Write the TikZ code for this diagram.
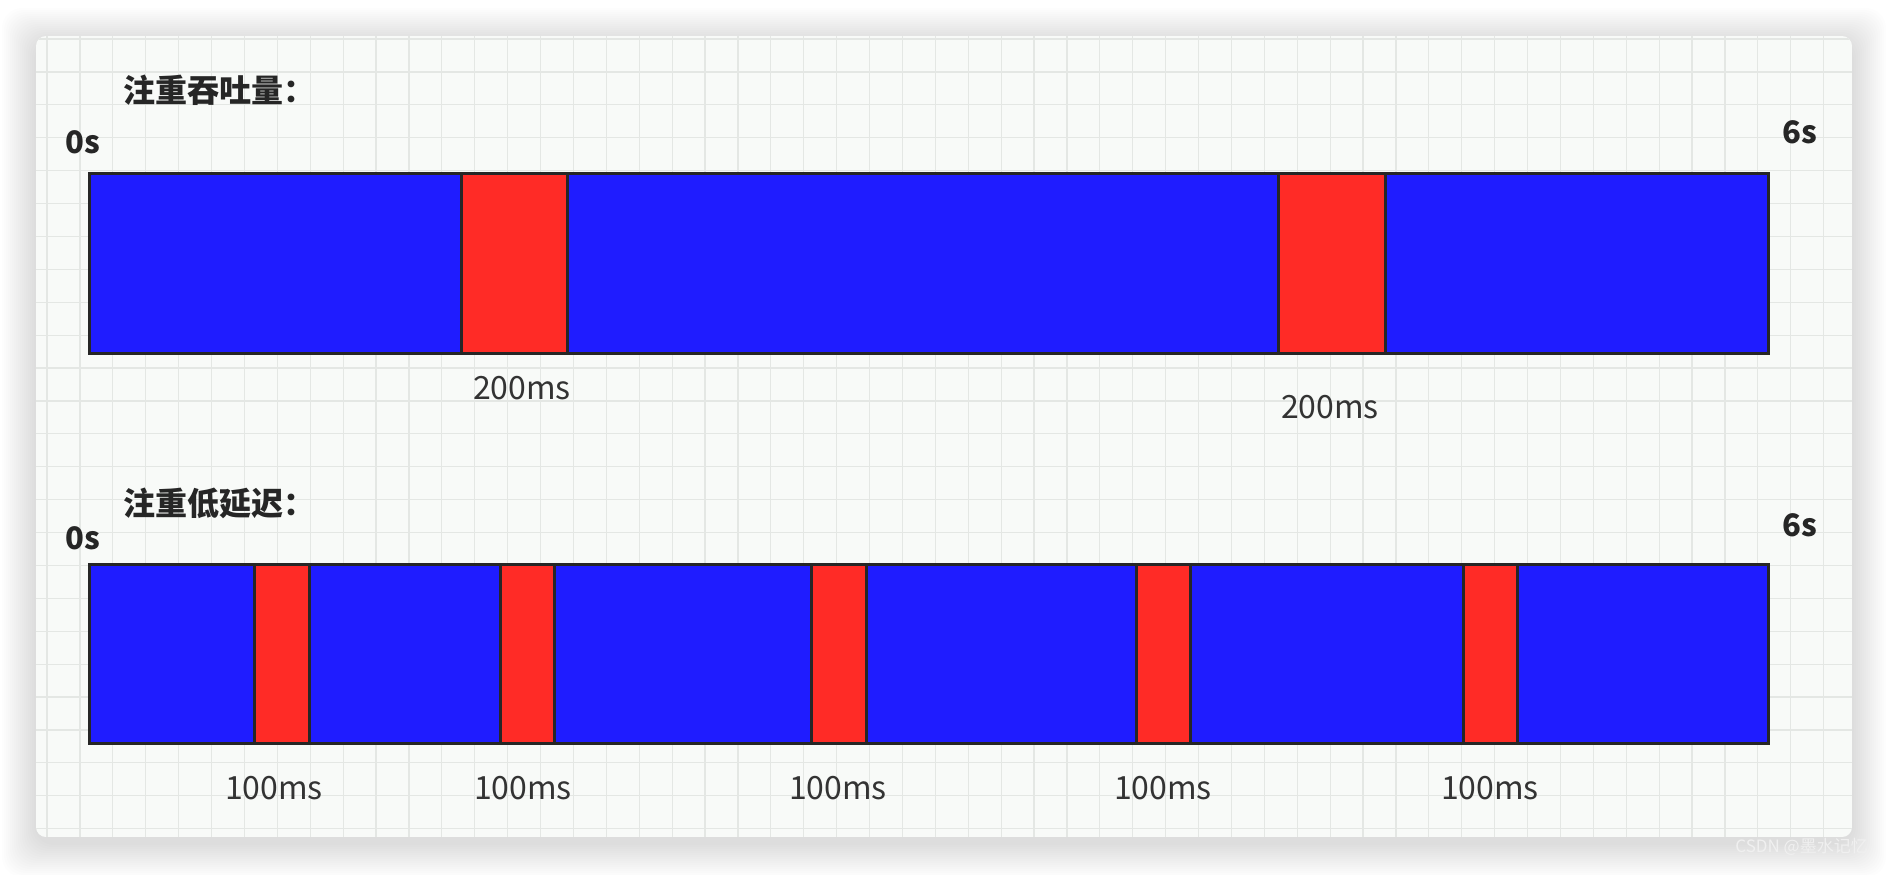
\documentclass[tikz,border=0pt]{standalone}
\usepackage{fontspec}
\setmainfont{Noto Sans CJK SC}
\usetikzlibrary{positioning}
\definecolor{runBlue}{HTML}{1F1CFF}
\definecolor{gcRed}{HTML}{FF2B26}
\definecolor{edgeGray}{HTML}{262626}
\definecolor{paper}{HTML}{F8FAF8}
\definecolor{gridGray}{HTML}{E4E7E4}
\definecolor{labelGray}{HTML}{333333}

\begin{document}
\begin{tikzpicture}[x=0.5pt, y=-0.5pt,
    runbar/.style={fill=runBlue, draw=edgeGray, line width=1.5pt},
    pause/.style={fill=gcRed, draw=edgeGray, line width=1.5pt},
    title/.style={font=\fontsize{16}{19}\selectfont\bfseries, text=black!85, anchor=west, inner sep=0pt},
    tick/.style={font=\fontsize{15.5}{18}\selectfont\bfseries, text=black!85, inner sep=0pt},
    mslabel/.style={font=\fontsize{16}{19}\selectfont, text=labelGray, inner sep=0pt}]

    \useasboundingbox (0,0) rectangle (1888,874);
    \fill[white] (0,0) rectangle (1888,874);

    % Card shadow
    \foreach \s in {2,4,...,34}
        \fill[black, opacity=0.007, rounded corners=10pt] ({36-\s},{42-\s}) rectangle ({1852+\s},{843+\s});

    % Card with grid
    \begin{scope}
        \clip[rounded corners=5pt] (36,36) rectangle (1852,837);
        \fill[paper] (36,36) rectangle (1852,837);
        \foreach \i in {0,...,55}
            \draw[gridGray, line width=0.6pt] ({47+32.9*\i},36) -- ({47+32.9*\i},837);
        \foreach \j in {0,...,24}
            \draw[gridGray, line width=0.6pt] (36,{39+32.9*\j}) -- (1852,{39+32.9*\j});
    \end{scope}

    % Throughput
    \node[title] (t1) at (123,90) {注重吞吐量：};
    \node[tick] (s0a) at (83,142) {0s};
    \node[tick] (s6a) at (1800,132) {6s};
    \draw[runbar] (89,173) rectangle (1768,353);
    \foreach \a/\b in {461/567, 1278/1385}
        \draw[pause] (\a,173) rectangle (\b,353);
    \node[mslabel] (p1) at (522,388) {200ms};
    \node[mslabel] (p2) at (1330,407) {200ms};

    % Low latency
    \node[title] (t2) at (123,503) {注重低延迟：};
    \node[tick] (s0b) at (83,538) {0s};
    \node[tick] (s6b) at (1800,525) {6s};
    \draw[runbar] (89,564) rectangle (1768,743);
    \foreach \a/\b/\c [count=\k] in {254/309/274, 500/554/523, 811/866/838, 1136/1190/1163, 1463/1517/1490} {
        \draw[pause] (\a,564) rectangle (\b,743);
        \node[mslabel] (q\k) at (\c,788) {100ms};
    }

    % Watermark
    \node[font=\fontsize{8.5}{10}\selectfont, text=white!94!black, anchor=west, inner sep=0pt] (wm) at (1735,847) {CSDN @墨水记忆};

\end{tikzpicture}
\end{document}
